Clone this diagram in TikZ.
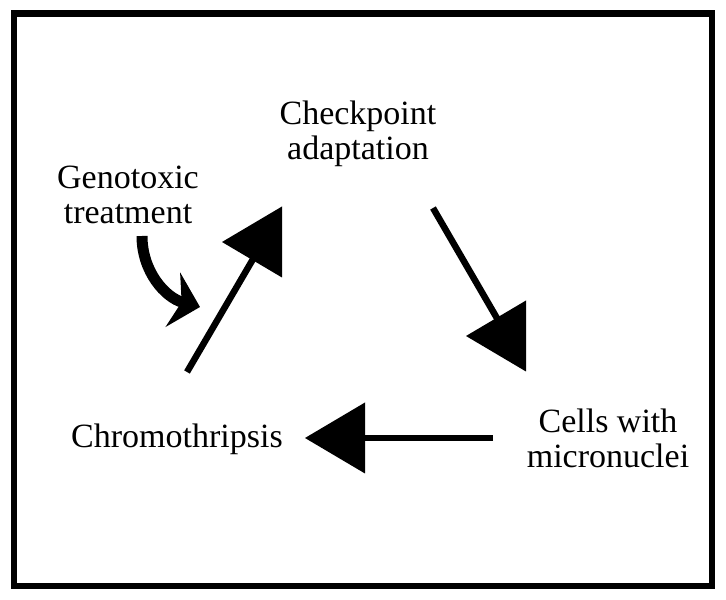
\documentclass[tikz,border=0pt]{standalone}
\usepackage{fontspec}
\setmainfont{Liberation Serif}
\usetikzlibrary{positioning,arrows.meta}

\begin{document}
\begin{tikzpicture}[x=1pt,y=1pt,
	lbl/.style={align=center,inner sep=0pt,font=\fontsize{34}{35}\selectfont},
	link/.style={line width=6.5pt},
	bent/.style={line width=11pt,-{Stealth[length=28pt,width=56pt,inset=9pt]}}]
	\useasboundingbox (0,0) rectangle (726,600);
	% draw frame
	\draw[line width=6.5pt] (14,14) rectangle (712,586.5);
	
	% draw nodes
	\node[lbl] (chk) at (358,466) {Checkpoint\\adaptation};
	\node[lbl] (geno) at (128,405) {Genotoxic\\treatment};
	\node[lbl] (chromo) at (177,161) {Chromothripsis};
	\node[lbl] (cells) at (608,162) {Cells with\\micronuclei};
	
	% line ends and tips
	\coordinate (s1) at (187,228); \coordinate (e1) at (256,346);
	\coordinate (s2) at (433,392); \coordinate (e2) at (498,280);
	\coordinate (s3) at (493,162); \coordinate (e3) at (360,162);
	\coordinate (t1) at (222,358);
	\coordinate (t2) at (466,264);
	\coordinate (t3) at (305,162);
	\coordinate (g1) at (142,364); \coordinate (g2) at (200,293);
	
	% draw lines
	\draw[link] (s1) -- (e1);
	\draw[link] (s2) -- (e2);
	\draw[link] (s3) -- (e3);
	
	% draw heads
	\foreach \t in {t1,t2,t3}
	\fill (\t) -- ++(60,35.5) -- ++(0,-71) -- cycle;
	
	%%%treatment
	\draw[bent] (g1) to[out=-90,in=165] (g2);
	
\end{tikzpicture}
\end{document}
